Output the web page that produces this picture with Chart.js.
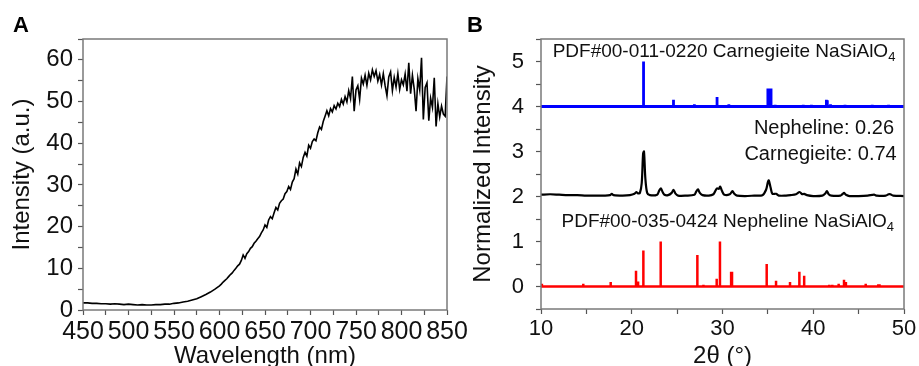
<!DOCTYPE html>
<html>
<head>
<meta charset="utf-8">
<script src="https://cdn.jsdelivr.net/npm/chart.js@4.4.0/dist/chart.umd.min.js"></script>
<style>
  body { margin: 0; background: #fff; }
  #wrap { position: relative; width: 919px; height: 366px; overflow: hidden; background: #fff; }
  #chartA { position: absolute; left: 0; top: 0; }
  #chartB { position: absolute; left: 460px; top: 0; }
</style>
</head>
<body>
<div id="wrap">
  <canvas id="chartA" width="480" height="366"></canvas>
  <canvas id="chartB" width="459" height="366"></canvas>
</div>
<script>
// ---- panel A: spectrum ----
const wavelength = [
  450, 455, 460, 465, 470, 475, 480, 485, 490, 495, 500, 505, 510, 515, 520, 525, 530, 535, 540, 545,
  550, 555, 560, 565, 570, 575, 580, 585, 590, 595, 600,
  602, 604, 606, 608, 610, 612, 614, 616, 618, 620, 622, 624, 626, 628, 630, 632, 634, 636, 638, 640,
  642, 644, 646, 648, 650, 652, 654, 656, 658, 660, 662, 664, 666, 668, 670, 672, 674, 676, 678, 680,
  682, 684, 686, 688, 690, 692, 694, 696, 698, 700, 702, 704, 706, 708, 710, 712, 714, 716, 718, 720,
  722, 724, 726, 728, 730, 732, 734, 736, 738, 740, 742, 744, 746, 748, 750, 752, 754, 756, 758, 760,
  762, 764, 766, 768, 770, 772, 774, 776, 778, 780, 782, 784, 786, 788, 790, 792, 794, 796, 798, 800,
  802, 804, 806, 808, 810, 812, 814, 816, 818, 820, 822, 824, 826, 828, 830, 832, 834, 836, 838, 840,
  842, 844, 846, 848, 850
];
const intensity = [
  1.7, 1.7, 1.6, 1.6, 1.5, 1.5, 1.4, 1.5, 1.4, 1.3, 1.4, 1.3, 1.2, 1.3, 1.2, 1.2, 1.3, 1.3, 1.4, 1.4,
  1.6, 1.7, 1.9, 2.1, 2.4, 2.7, 3.2, 3.7, 4.3, 5.0, 5.8,
  6.2, 6.7, 7.1, 7.5, 8.0, 8.5, 8.9, 9.5, 10.0, 10.6, 11.0, 11.9, 13.2, 12.4, 13.5, 14.0, 14.8, 15.2, 16.0, 16.5,
  17.1, 17.6, 18.5, 19.2, 20.4, 19.8, 21.6, 22.4, 21.9, 23.3, 24.6, 24.0, 25.6, 26.2, 26.6, 27.9, 28.4, 29.6, 28.9, 30.7,
  31.5, 33.8, 32.6, 35.3, 34.4, 36.6, 37.8, 36.9, 39.5, 38.8, 40.4, 41.0, 40.6, 42.5, 43.9, 43.3, 45.2, 46.5, 47.8, 46.6,
  48.3, 47.5, 49.0, 48.2, 49.6, 48.8, 50.5, 49.4, 51.2, 49.9, 52.6, 50.7, 56.0, 47.7, 52.8, 53.8, 50.5, 55.6, 54.2, 56.3,
  53.9, 56.8, 55.2, 57.6, 56.0, 57.4, 54.9, 56.5, 54.0, 56.7, 53.8, 51.4, 55.9, 57.1, 52.6, 55.8, 53.5, 56.7, 52.9, 55.2,
  54.0, 56.6, 52.5, 59.3, 51.9, 56.3, 53.0, 47.7, 55.5, 52.8, 60.5, 45.7, 53.4, 54.5, 45.4, 50.8, 48.6, 55.7, 44.0, 49.5,
  46.3, 48.9, 47.0, 46.5, 56.0
];

// ---- panel B: XRD patterns ----
const carnegieitePeaks   = [21.3, 23.6, 24.6, 26.9, 29.4, 30.7, 35.0, 35.1, 35.2, 35.35, 35.8, 38.9, 39.8, 41.45, 41.55, 41.9, 43.5, 46.5, 48.3];
const carnegieiteHeights = [1.0, 0.03, 0.15, 0.05, 0.21, 0.05, 0.40, 0.40, 0.40, 0.40, 0.04, 0.04, 0.04, 0.15, 0.14, 0.05, 0.04, 0.04, 0.04];
const carnegieiteOffset = 4;

const sampleTheta = [
  10.0, 11.0, 12.0, 13.0, 14.0, 15.0, 16.0, 17.0, 17.6, 17.8, 18.0, 19.0, 19.8, 20.3, 20.5, 20.7, 20.9, 21.1, 21.25, 21.35,
  21.5, 21.7, 22.0, 22.8, 23.0, 23.2, 23.4, 23.6, 24.0, 24.4, 24.6, 24.8, 25.1, 26.0, 26.9, 27.1, 27.3, 27.5, 27.8, 28.5,
  29.0, 29.2, 29.4, 29.6, 29.75, 29.95, 30.2, 30.8, 31.1, 31.3, 31.6, 32.5, 33.5, 34.4, 34.8, 35.0, 35.1, 35.3, 35.5, 35.9,
  36.2, 37.0, 37.5, 38.1, 38.5, 38.8, 39.0, 39.3, 40.0, 41.0, 41.3, 41.5, 41.7, 42.0, 43.0, 43.2, 43.4, 43.6, 44.0, 45.0,
  46.0, 46.7, 47.0, 48.0, 48.3, 48.5, 48.8, 50.0
];
const sampleIntensity = [
  2.04, 2.05, 2.04, 2.03, 2.03, 2.02, 2.02, 2.02, 2.03, 2.06, 2.03, 2.02, 2.03, 2.06, 2.10, 2.07, 2.08, 2.30, 2.95, 3.00,
  2.40, 2.08, 2.03, 2.04, 2.12, 2.18, 2.10, 2.04, 2.03, 2.08, 2.15, 2.07, 2.02, 2.02, 2.04, 2.11, 2.16, 2.08, 2.03, 2.02,
  2.05, 2.12, 2.18, 2.17, 2.22, 2.12, 2.04, 2.05, 2.12, 2.06, 2.02, 2.01, 2.02, 2.03, 2.15, 2.32, 2.36, 2.20, 2.06, 2.06,
  2.02, 2.02, 2.03, 2.05, 2.10, 2.05, 2.06, 2.03, 2.01, 2.02, 2.06, 2.12, 2.05, 2.02, 2.02, 2.05, 2.08, 2.04, 2.01, 2.01,
  2.02, 2.04, 2.02, 2.02, 2.05, 2.05, 2.02, 2.01
];

const nephelinePeaks   = [10.1, 14.66, 17.68, 20.47, 20.7, 21.28, 23.19, 27.23, 27.9, 29.36, 29.72, 30.95, 31.05, 33.8, 34.87, 35.9, 37.1, 37.44, 37.9, 38.47, 39.0, 41.77, 42.1, 42.4, 42.8, 43.39, 43.6, 45.78, 47.17, 47.3, 48.3];
const nephelineHeights = [0.06, 0.06, 0.10, 0.35, 0.11, 0.80, 1.00, 0.70, 0.04, 0.17, 1.00, 0.33, 0.33, 0.02, 0.50, 0.13, 0.03, 0.10, 0.02, 0.33, 0.24, 0.04, 0.04, 0.03, 0.06, 0.15, 0.10, 0.06, 0.05, 0.05, 0.02];
const nephelineOffset = 0;

const notesB = [
  { text: 'PDF#00-011-0220 Carnegieite NaSiAlO', sub: '4', x: 49.05, y: 5.11 },
  { text: 'Nepheline: 0.26', sub: '', x: 48.9, y: 3.40 },
  { text: 'Carnegieite: 0.74', sub: '', x: 49.2, y: 2.82 },
  { text: 'PDF#00-035-0424 Nepheline NaSiAlO', sub: '4', x: 48.9, y: 1.32 }
];

const FONT = '"Liberation Sans", Arial, Helvetica, sans-serif';

function sticks(pos, h, base) {
  const pts = [{ x: 10, y: base }];
  pos.forEach((p, i) => {
    pts.push({ x: p, y: base }, { x: p, y: base + h[i] }, { x: p, y: base });
  });
  pts.push({ x: 50, y: base });
  return pts;
}

const framePlugin = {
  id: 'frame',
  afterDatasetsDraw(chart) {
    const { ctx, chartArea: a } = chart;
    ctx.save();
    ctx.strokeStyle = '#7a7a7a';
    ctx.lineWidth = 1.5;
    ctx.strokeRect(a.left, a.top, a.right - a.left, a.bottom - a.top);
    ctx.restore();
  }
};

const letterPlugin = {
  id: 'letter',
  afterDraw(chart, args, opts) {
    const ctx = chart.ctx;
    ctx.save();
    ctx.font = 'bold 22px ' + FONT;
    ctx.fillStyle = '#000';
    ctx.textBaseline = 'alphabetic';
    ctx.fillText(opts.text, opts.x, opts.y);
    ctx.restore();
  }
};

const notesPlugin = {
  id: 'notes',
  afterDatasetsDraw(chart, args, opts) {
    if (!opts.items) return;
    const ctx = chart.ctx;
    const xs = chart.scales.x, ys = chart.scales.y;
    ctx.save();
    ctx.fillStyle = '#111';
    ctx.textBaseline = 'alphabetic';
    opts.items.forEach(n => {
      const px = xs.getPixelForValue(n.x);
      const py = ys.getPixelForValue(n.y);
      const size = n.sub ? 19 : 20;
      let right = px;
      if (n.sub) {
        ctx.font = '13px ' + FONT;
        const w = ctx.measureText(n.sub).width;
        ctx.textAlign = 'right';
        ctx.fillText(n.sub, right, py + 4);
        right -= w;
      }
      ctx.font = size + 'px ' + FONT;
      ctx.textAlign = 'right';
      ctx.fillText(n.text, right, py);
    });
    ctx.restore();
  }
};

const gridOpts = { drawOnChartArea: false, drawTicks: true, tickLength: 5, tickColor: '#555', tickWidth: 1.2 };

// ---- chart A ----
new Chart(document.getElementById('chartA'), {
  type: 'line',
  data: {
    datasets: [{
      data: wavelength.map((w, i) => ({ x: w, y: intensity[i] })),
      borderColor: '#000',
      borderWidth: 1.6,
      pointRadius: 0,
      tension: 0,
      fill: false
    }]
  },
  options: {
    responsive: false,
    animation: false,
    devicePixelRatio: 1,
    layout: { padding: { top: 39, right: 33, left: 0, bottom: 0 } },
    plugins: {
      legend: { display: false },
      tooltip: { enabled: false },
      letter: { text: 'A', x: 13, y: 32 }
    },
    scales: {
      x: {
        type: 'linear', min: 450, max: 850,
        grid: gridOpts, border: { display: false },
        ticks: {
          stepSize: 25, autoSkip: false, maxRotation: 0, minRotation: 0, padding: 2,
          color: '#111', font: { family: FONT, size: 25 },
          callback: v => (v % 50 === 0 ? v : '')
        },
        title: { display: true, text: 'Wavelength (nm)', color: '#111', font: { family: FONT, size: 24, lineHeight: 1 }, padding: { top: 0, bottom: -2 } },
        afterFit: s => { s.height = 56; }
      },
      y: {
        type: 'linear', min: 0, max: 65,
        grid: gridOpts, border: { display: false },
        ticks: {
          stepSize: 5, autoSkip: false, padding: 5,
          color: '#111', font: { family: FONT, size: 24 },
          callback: v => (v % 10 === 0 ? v : '')
        },
        title: { display: true, text: 'Intensity (a.u.)', color: '#111', font: { family: FONT, size: 24, lineHeight: 1 }, padding: { top: 10, bottom: 0 } },
        afterFit: s => { s.width = 83; }
      }
    }
  },
  plugins: [framePlugin, letterPlugin]
});

// ---- chart B ----
new Chart(document.getElementById('chartB'), {
  type: 'line',
  data: {
    datasets: [
      {
        data: sticks(carnegieitePeaks, carnegieiteHeights, carnegieiteOffset),
        borderColor: '#0000ff', borderWidth: 2.8, pointRadius: 0, tension: 0
      },
      {
        data: sampleTheta.map((t, i) => ({ x: t, y: sampleIntensity[i] })),
        borderColor: '#000', borderWidth: 2.2, pointRadius: 0, tension: 0.3
      },
      {
        data: sticks(nephelinePeaks, nephelineHeights, nephelineOffset),
        borderColor: '#ff0000', borderWidth: 2.5, pointRadius: 0, tension: 0
      }
    ]
  },
  options: {
    responsive: false,
    animation: false,
    devicePixelRatio: 1,
    layout: { padding: { top: 39, right: 15, left: 0, bottom: 0 } },
    plugins: {
      legend: { display: false },
      tooltip: { enabled: false },
      letter: { text: 'B', x: 7, y: 32 },
      notes: { items: notesB }
    },
    scales: {
      x: {
        type: 'linear', min: 10, max: 50,
        grid: gridOpts, border: { display: false },
        ticks: {
          stepSize: 5, autoSkip: false, maxRotation: 0, minRotation: 0, padding: 2,
          color: '#111', font: { family: FONT, size: 22 },
          callback: v => (v % 10 === 0 ? v : '')
        },
        title: { display: true, text: '2θ (°)', color: '#111', font: { family: FONT, size: 24, lineHeight: 1 }, padding: { top: 0, bottom: -2 } },
        afterFit: s => { s.height = 57; }
      },
      y: {
        type: 'linear', min: -0.5, max: 5.5,
        grid: gridOpts, border: { display: false },
        ticks: {
          stepSize: 0.5, autoSkip: false, padding: 12,
          color: '#111', font: { family: FONT, size: 22 },
          callback: v => (Math.abs(v - Math.round(v)) < 1e-6 ? Math.round(v) : '')
        },
        title: { display: true, text: 'Normalized Intensity', color: '#111', font: { family: FONT, size: 24, lineHeight: 1 }, padding: { top: 11, bottom: 0 } },
        afterFit: s => { s.width = 81; }
      }
    }
  },
  plugins: [framePlugin, letterPlugin, notesPlugin]
});
</script>
</body>
</html>
